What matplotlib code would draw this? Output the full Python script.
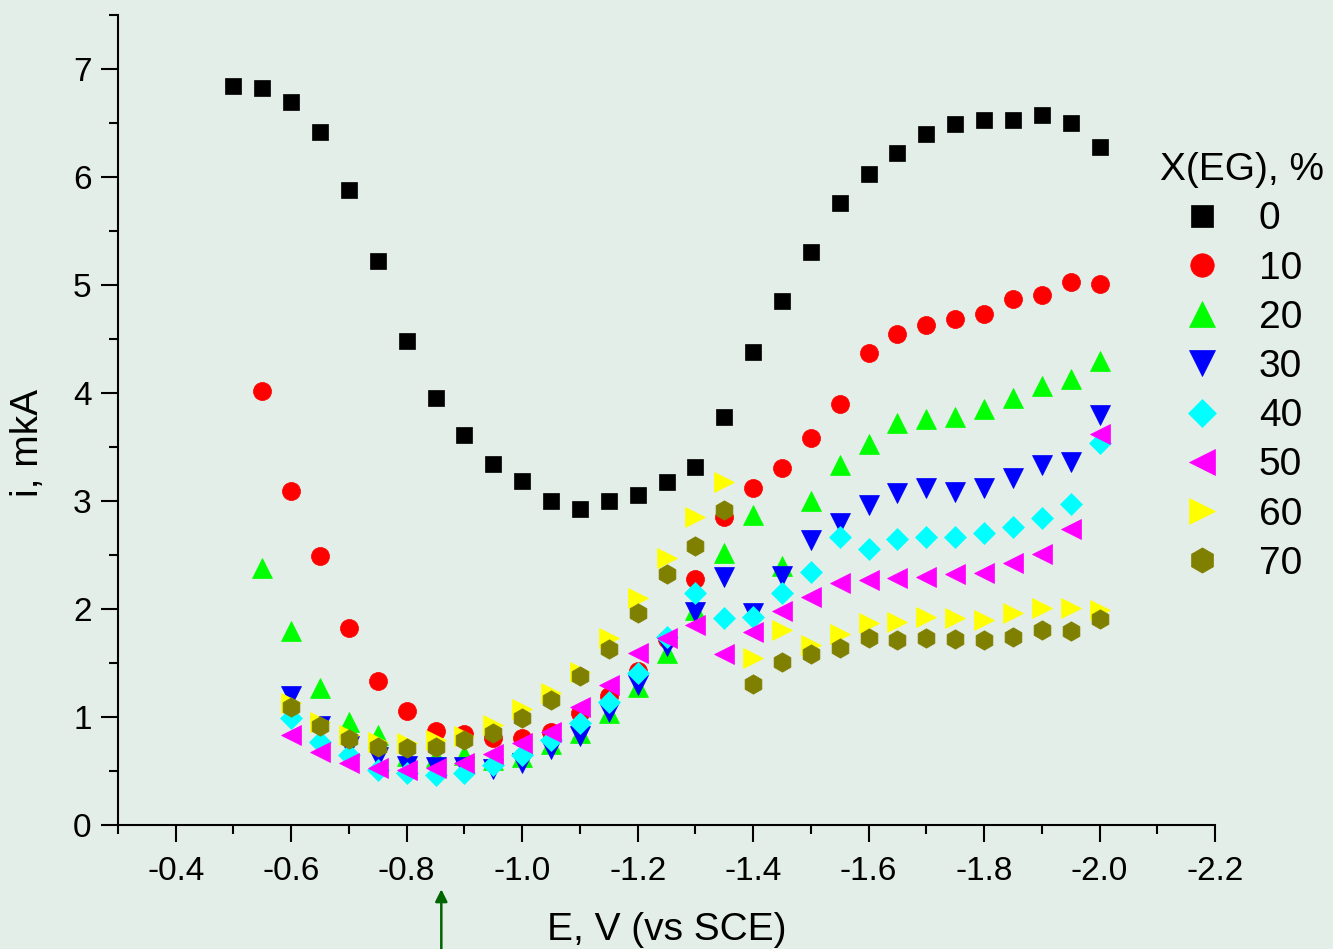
import numpy as np
import matplotlib.pyplot as plt

plt.rcParams['font.family'] = ['Liberation Sans', 'DejaVu Sans']

E = [-0.50, -0.55, -0.60, -0.65, -0.70, -0.75, -0.80, -0.85, -0.90, -0.95,
     -1.00, -1.05, -1.10, -1.15, -1.20, -1.25, -1.30, -1.35, -1.40, -1.45,
     -1.50, -1.55, -1.60, -1.65, -1.70, -1.75, -1.80, -1.85, -1.90, -1.95, -2.00]

i0 = [6.84, 6.83, 6.70, 6.42, 5.88, 5.22, 4.48, 3.95, 3.61, 3.34,
      3.19, 3.00, 2.93, 3.00, 3.06, 3.18, 3.32, 3.78, 4.38, 4.85,
      5.31, 5.76, 6.03, 6.22, 6.40, 6.49, 6.53, 6.53, 6.58, 6.50, 6.28]
# from -0.55
i10 = [4.02, 3.09, 2.49, 1.82, 1.33, 1.06, 0.87, 0.84, 0.81, 0.81,
       0.86, 1.04, 1.19, 1.43, 1.72, 2.28, 2.85, 3.12, 3.31, 3.58,
       3.90, 4.37, 4.55, 4.63, 4.69, 4.73, 4.87, 4.91, 5.03, 5.01]
i20 = [2.38, 1.80, 1.27, 0.95, 0.83, 0.64, 0.63, 0.65, 0.60, 0.63,
       0.75, 0.85, 1.04, 1.28, 1.59, 1.99, 2.52, 2.87, 2.40, 3.00,
       3.33, 3.53, 3.72, 3.76, 3.78, 3.85, 3.95, 4.07, 4.13, 4.30]
# from -0.60
i30 = [1.19, 0.92, 0.73, 0.63, 0.55, 0.54, 0.54, 0.52, 0.57,
       0.70, 0.82, 1.05, 1.30, 1.66, 1.97, 2.30, 1.96, 2.31, 2.64,
       2.80, 2.96, 3.07, 3.12, 3.08, 3.12, 3.21, 3.33, 3.36, 3.80]
i40 = [0.99, 0.77, 0.65, 0.51, 0.48, 0.46, 0.48, 0.56, 0.65,
       0.79, 0.94, 1.14, 1.41, 1.74, 2.15, 1.92, 1.93, 2.15, 2.34,
       2.67, 2.56, 2.65, 2.67, 2.67, 2.70, 2.76, 2.84, 2.97, 3.54]
i50 = [0.83, 0.68, 0.57, 0.53, 0.51, 0.53, 0.57, 0.66, 0.76,
       0.86, 1.09, 1.30, 1.59, 1.73, 1.85, 1.58, 1.79, 1.98, 2.11,
       2.24, 2.27, 2.29, 2.30, 2.32, 2.33, 2.43, 2.51, 2.74, 3.62]
i60 = [1.13, 0.95, 0.83, 0.77, 0.76, 0.79, 0.82, 0.93, 1.07,
       1.22, 1.42, 1.73, 2.10, 2.47, 2.85, 3.18, 1.55, 1.81, 1.67,
       1.77, 1.87, 1.88, 1.93, 1.92, 1.90, 1.96, 2.01, 2.01, 1.99]
i70 = [1.09, 0.92, 0.80, 0.72, 0.71, 0.72, 0.79, 0.85, 0.99,
       1.16, 1.38, 1.63, 1.96, 2.32, 2.58, 2.92, 1.31, 1.51, 1.58,
       1.64, 1.73, 1.71, 1.73, 1.72, 1.71, 1.74, 1.81, 1.80, 1.91]

labels = ['0', '10', '20', '30', '40', '50', '60', '70']
series = [i0, i10, i20, i30, i40, i50, i60, i70]
colors = ['black', '#FF0000', '#00FF00', '#0000FF', '#00FFFF', '#FF00FF', '#FFFF00', '#808000']
markers = ['s', 'o', '^', 'v', 'D', '<', '>', 'h']
sizes = [12, 13, 14, 14, 11, 14, 14, 14]

bg = '#E4EEE9'
fig = plt.figure(figsize=(13.33, 9.49), dpi=100, facecolor=bg)
ax = fig.add_axes([0.0885, 0.1307, 0.823, 0.8533], facecolor=bg)

for y, lab, c, m, s in zip(series, labels, colors, markers, sizes):
    x = E[len(E) - len(y):]
    ax.plot(x, y, linestyle='none', marker=m, ms=s, color=c, mec=c, mew=0.5, label=lab)

ax.set_xlim(-0.3, -2.2)
ax.set_ylim(0, 7.5)
ax.set_xticks([-0.4, -0.6, -0.8, -1.0, -1.2, -1.4, -1.6, -1.8, -2.0, -2.2])
ax.set_xticks(np.arange(-0.3, -2.25, -0.2), minor=True)
ax.set_yticks(range(8))
ax.set_yticks([0.5, 1.5, 2.5, 3.5, 4.5, 5.5, 6.5, 7.5], minor=True)
ax.xaxis.set_major_formatter(plt.FormatStrFormatter('%.1f'))

for side in ['top', 'right']:
    ax.spines[side].set_visible(False)
for side in ['left', 'bottom']:
    ax.spines[side].set_linewidth(1.5)
ax.tick_params(which='major', length=12.5, width=1.5, labelsize=24, direction='out')
ax.tick_params(which='minor', length=6.5, width=1.5, direction='out')
ax.tick_params(axis='x', which='major', pad=10)
ax.tick_params(axis='y', which='major', pad=6.5)

ax.set_xlabel('E, V (vs SCE)', fontsize=28, labelpad=18)
ax.set_ylabel('i, mkA', fontsize=28)
ax.yaxis.set_label_coords(-0.066, 0.472)

# green marker arrow under the axis
ax.annotate('', xy=(-0.86, -0.076), xytext=(-0.86, -0.16),
            xycoords=('data', 'axes fraction'), textcoords=('data', 'axes fraction'),
            arrowprops=dict(arrowstyle='-|>', color='#006400', lw=1.8, mutation_scale=18),
            annotation_clip=False)

leg = fig.legend(loc='upper left', bbox_to_anchor=(0.8703, 0.8397), frameon=False,
                 title='X(EG), %', fontsize=28, title_fontsize=28,
                 handletextpad=0.97, labelspacing=0.34, markerscale=1.3,
                 borderpad=0, borderaxespad=0, handlelength=1.0)

fig.savefig('out.png', dpi=100, facecolor=bg)
